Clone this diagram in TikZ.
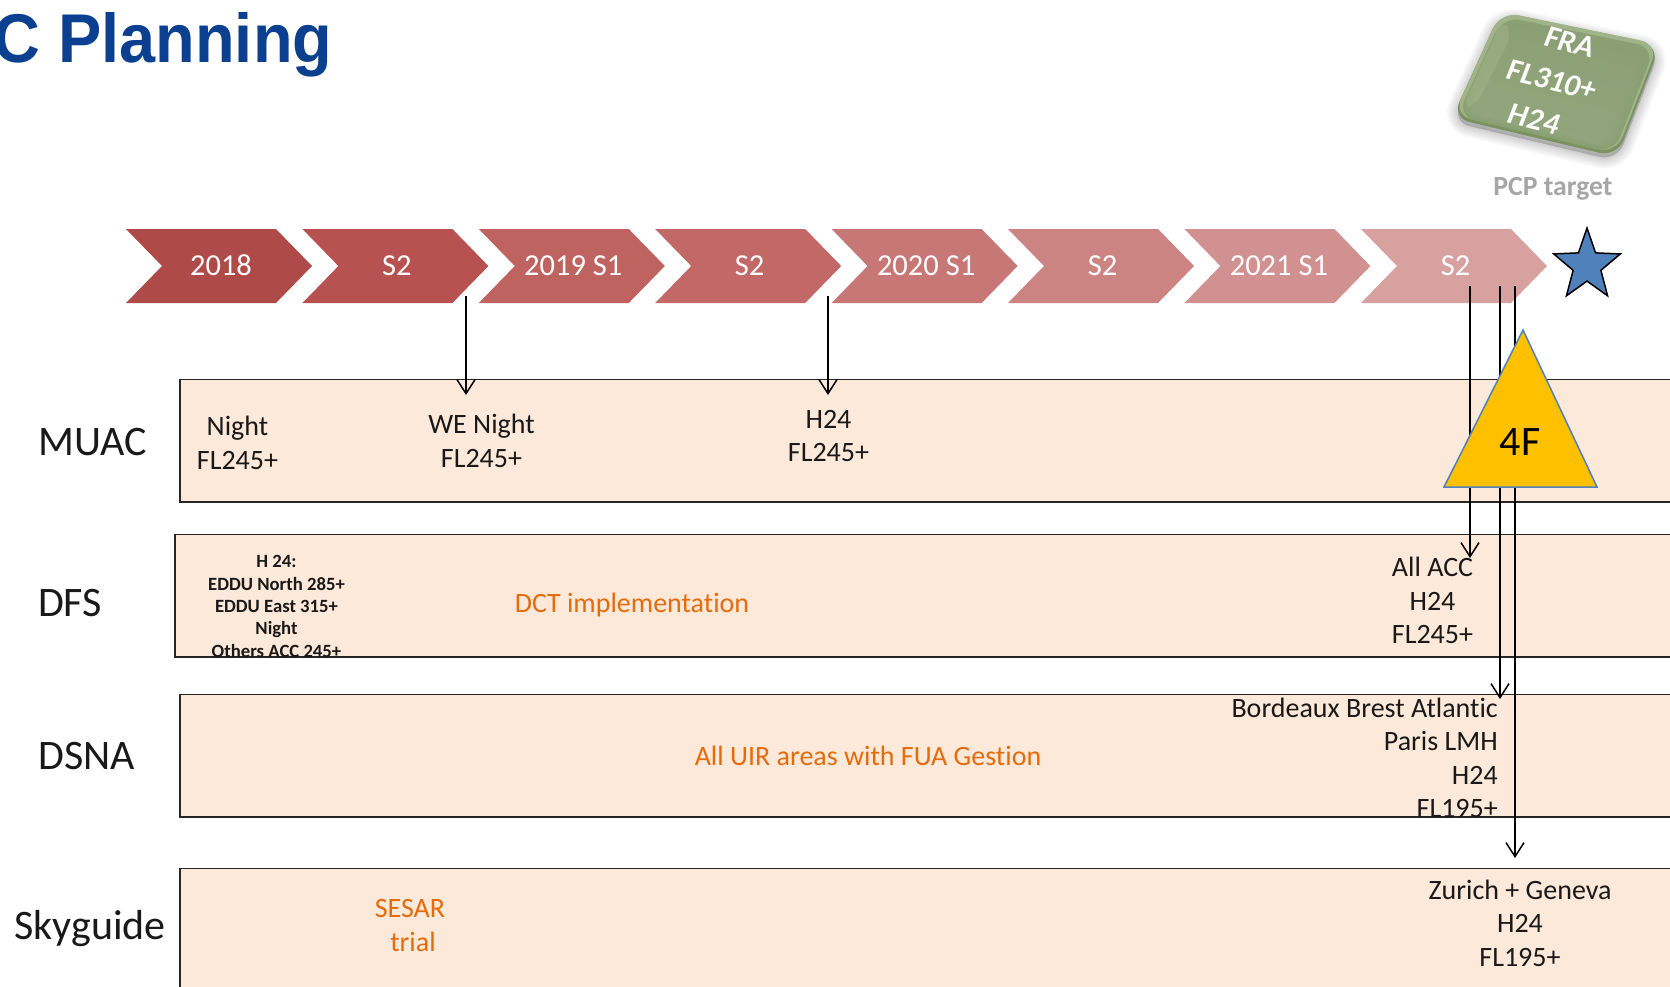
\documentclass[tikz,border=0pt]{standalone}
\usepackage{fontspec}
\setmainfont[Ligatures=NoCommon]{Carlito}
\newfontfamily\titlefont[FakeStretch=0.94]{Liberation Sans}
\usetikzlibrary{arrows.meta,shapes.geometric,shadings}
\definecolor{barfill}{HTML}{FDE9D9}
\definecolor{orangetxt}{HTML}{E46C0A}
\definecolor{titleblue}{HTML}{0B3F8F}
\definecolor{starblue}{HTML}{4F81BD}
\definecolor{triyellow}{HTML}{FFC000}
\definecolor{chA}{HTML}{AE4A47}
\definecolor{chB}{HTML}{B85250}
\definecolor{chC}{HTML}{BF6361}
\definecolor{chD}{HTML}{C26867}
\definecolor{chE}{HTML}{C77776}
\definecolor{chF}{HTML}{CC8483}
\definecolor{chG}{HTML}{D09190}
\definecolor{chH}{HTML}{D7A1A0}
\definecolor{tileMid}{HTML}{96A880}
\definecolor{tileTop}{HTML}{8B9F74}
\definecolor{tileLight}{HTML}{A9BC8F}
\definecolor{tileDark}{HTML}{7B9360}
\tikzset{
  x=1pt,y=-1pt,
  bar/.style={draw=black!85,line width=1.4pt,fill=barfill},
  body/.style={font=\fontsize{28}{33.5}\selectfont,align=center,inner sep=0pt,text=black!90},
  small/.style={font=\fontsize{18.7}{22.3}\selectfont\bfseries,align=center,inner sep=0pt,text=black!90},
  rowlabel/.style={font=\fontsize{42}{46}\selectfont,inner sep=0pt,text=black!90},
  note/.style={font=\fontsize{28}{33.5}\selectfont,align=center,inner sep=0pt,text=orangetxt},
  chevlabel/.style={font=\fontsize{30.5}{34}\selectfont,text=white,inner sep=0pt},
  tiletext/.style={font=\fontsize{31}{34}\selectfont\itshape\bfseries,text=white!96!tileMid,rotate=-14,inner sep=0pt},
  arr/.style={draw=black,line width=1.5pt,-{Straight Barb[length=14pt,width=18pt,line width=1.5pt]}},
}
\newcommand{\chevron}[5]{%
  \fill[#2] (#1,229) -- (#1+150,229) -- (#1+186,266) -- (#1+150,303) -- (#1,303) -- (#1+36,266) -- cycle;
  \node[chevlabel] (#3) at (#1+#5,265.5) {#4};
}
\newcommand{\tilepath}{(1500,13) -- (1660,46) -- (1617,157) -- (1452,118) -- cycle}
\begin{document}
\begin{tikzpicture}
\useasboundingbox (0,0) rectangle (1670,986);
\clip (0,0) rectangle (1670,986);
\fill[white] (0,0) rectangle (1670,986);

\node[font=\titlefont\bfseries\fontsize{69}{75}\selectfont,text=titleblue,inner sep=0pt,anchor=base east] (title) at (332.5,62) {C Planning};

% PCP tile: soft shadow
\foreach \g in {22,18,14,10,6,3}{
  \fill[black,opacity=.03,rounded corners=18pt,line width=\g pt,draw=black,yshift=-4pt] \tilepath;
}
% rim and bevel
\fill[rounded corners=18pt,fill=tileDark] \tilepath;
\fill[rounded corners=18pt,fill=tileLight!60!tileMid,yshift=2.5pt,scale around={.985:(1556,83)}] \tilepath;
\fill[rounded corners=18pt,fill=tileTop,scale around={.95:(1556,80)}] \tilepath;
\foreach \s/\o in {.92/.3,.89/.35,.86/.45,.82/.6}{
  \shade[rounded corners=16pt,opacity=\o,top color=tileTop,bottom color=tileMid,shading angle=-14,scale around={\s:(1556,82)}] \tilepath;
}
\fill[tileLight,opacity=.4,rounded corners=12pt] (1462,108) -- (1503,18) -- (1512,34) -- (1476,106) -- cycle;
\node[tiletext] (tfra) at (1570,42) {FRA};
\node[tiletext] (tfl) at (1552,80) {FL310+};
\node[tiletext] (th) at (1534,119) {H24};
\node[font=\fontsize{27.7}{32}\selectfont\bfseries,text=black!35,inner sep=0pt] (pcp) at (1553,189) {PCP target};

% timeline
\chevron{126}{chA}{c1}{2018}{95}
\chevron{302.4}{chB}{c2}{S2}{94.5}
\chevron{478.8}{chC}{c3}{2019 S1}{94.5}
\chevron{655.2}{chD}{c4}{S2}{94.5}
\chevron{831.6}{chE}{c5}{2020 S1}{94.5}
\chevron{1008}{chF}{c6}{S2}{94.5}
\chevron{1184.4}{chG}{c7}{2021 S1}{94.5}
\chevron{1361}{chH}{c8}{S2}{94.5}
\node[star,star points=5,star point ratio=2.4,minimum size=70pt,inner sep=0pt,fill=starblue,draw=black,line width=1.5pt,yscale=1.07,transform shape] (goal) at (1587,265.5) {};

% bars
\filldraw[bar] (180,379.5) rectangle (1700,502);
\filldraw[bar] (175,534.5) rectangle (1700,657);
\filldraw[bar] (180,694.5) rectangle (1700,817);
\filldraw[bar] (180,868.5) rectangle (1700,1010);

% row labels
\node[rowlabel] (muac) at (93,442) {MUAC};
\node[rowlabel] (dfs) at (70,603) {DFS};
\node[rowlabel] (dsna) at (86.5,756) {DSNA};
\node[rowlabel] (sky) at (90,929) {Skyguide};

% texts
\node[body] (n1) at (237.5,443) {Night\\FL245+};
\node[body] (n2) at (481.5,441) {WE Night\\FL245+};
\node[body] (n3) at (828.5,436) {H24\\FL245+};
\node[small] (n4) at (276.5,606.5) {H 24:\\EDDU North 285+\\EDDU East 315+\\Night\\Others ACC 245+};
\node[note] (n5) at (632,605.5) {DCT implementation};
\node[note] (n6) at (868,756) {All UIR areas with FUA Gestion};
\node[note] (n7) at (410,925.5) {SESAR\\\hspace*{6pt}trial};
\node[body] (n8) at (1432.5,600.5) {All ACC\\H24\\FL245+};
\node[body,align=right,anchor=east] (n9) at (1498,758) {Bordeaux Brest Atlantic\\Paris LMH\\H24\\FL195+};
\node[body] (n10) at (1520,923) {Zurich + Geneva\\H24\\FL195+};

% connectors
\coordinate (s1) at (466,296); \coordinate (t1) at (466,395);
\coordinate (s2) at (828,296); \coordinate (t2) at (828,395);
\coordinate (s3) at (1470,286); \coordinate (t3) at (1470,558);
\coordinate (s4) at (1500,286); \coordinate (t4) at (1500,699);
\coordinate (s5) at (1515,286); \coordinate (t5) at (1515,858);
\draw[arr] (s1) -- (t1);
\draw[arr] (s2) -- (t2);
\draw[arr] (s3) -- (t3);
\draw[arr] (s4) -- (t4);
\draw[arr] (s5) -- (t5);

% 4F triangle
\filldraw[fill=triyellow,draw=starblue,line width=1.5pt] (1523,330) -- (1597,487) -- (1444,487) -- cycle;
\node[font=\fontsize{42}{46}\selectfont,text=black,inner sep=0pt] (four) at (1520,442) {4F};
\end{tikzpicture}
\end{document}
